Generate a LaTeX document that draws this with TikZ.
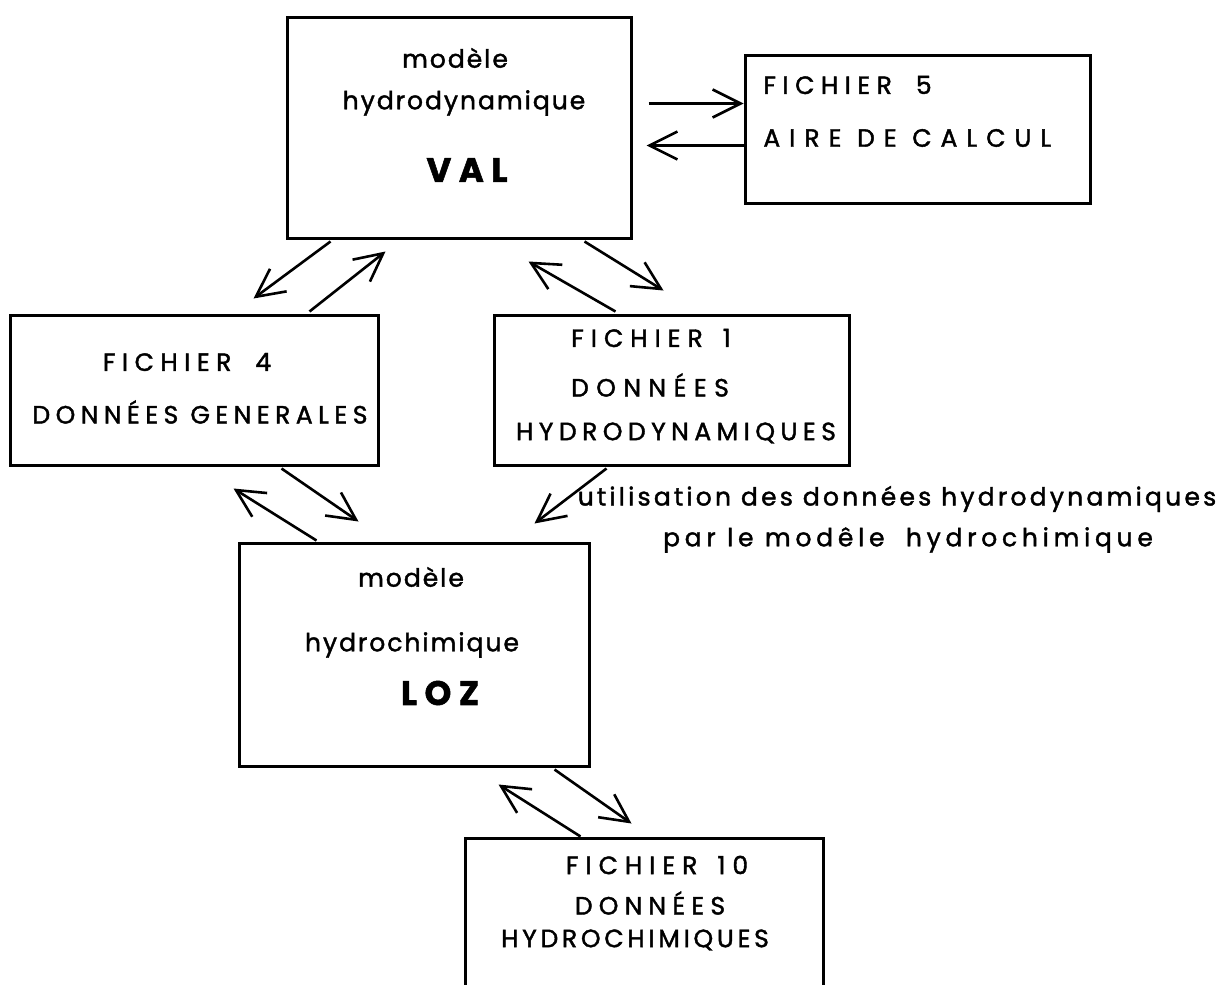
\documentclass[tikz,border=0pt]{standalone}
\usepackage{fontspec}
\newfontfamily\lettrage[LetterSpace=22,FakeBold=1.6]{Poppins}
\newfontfamily\minuscule[LetterSpace=8,FakeBold=1.6]{Poppins}
\newcommand{\ecart}[1]{\addfontfeature{LetterSpace=#1}}
\usetikzlibrary{arrows.meta,calc,fit}
\tikzset{boite/.style={draw=black, line width=1.5pt, inner sep=0pt, rectangle},
ecrit/.style={inner sep=0pt, font=\lettrage\fontsize{12.5}{14}\selectfont},
petit/.style={inner sep=0pt, font=\minuscule\fontsize{12.5}{14}\selectfont},
nom/.style={inner sep=0pt, font=\lettrage\bfseries\fontsize{17}{19}\selectfont},
fl/.style={line width=1.3pt, -{Straight Barb[length=14pt,width=14pt,line width=1.3pt]}}}

\begin{document}
\begin{tikzpicture}[x=0.5pt,y=-0.5pt]
    \useasboundingbox (0,0) rectangle (1221,985);
    \clip (0,0) rectangle (1221,985);

    \node (val) [boite, fit={(287,17) (631,238)}] {};
    \node (f5) [boite, fit={(745,55) (1090,203)}] {};
    \node (f4) [boite, fit={(10,315) (378,465)}] {};
    \node (f1) [boite, fit={(494,315) (849,465)}] {};
    \node (loz) [boite, fit={(239,543) (589,766)}] {};
    \node (f10) [boite, fit={(465,838) (823,1010)}] {};

    \node (val_a) [petit] at (455,58) {modèle};
    \node (val_b) [petit] at (464,103) {hydrodynamique};
    \node (val_c) [nom] at (467,170) {VAL};

    \node (f5_a) [ecrit, anchor=west] at (763,85) {\ecart{26}FICHIER\hspace{12pt}5};
    \node (f5_b) [ecrit, anchor=west] at (763,138) {\ecart{36}AIRE DE CALCUL};

    \node (f4_a) [ecrit] at (187,362) {\ecart{26}FICHIER\hspace{12pt}4};
    \node (f4_b) [ecrit] at (200,412) {DONNÉES GENERALES};

    \node (f1_a) [ecrit] at (651,338) {\ecart{28}FICHIER\hspace{10pt}1};
    \node (f1_b) [ecrit] at (650,385) {\ecart{30}DONNÉES};
    \node (f1_c) [ecrit] at (676,433) {HYDRODYNAMIQUES};

    \node (loz_a) [petit] at (411,577) {modèle};
    \node (loz_b) [petit] at (412,645) {hydrochimique};
    \node (loz_c) [nom] at (440,693) {LOZ};

    \node (f10_a) [ecrit] at (657,865) {\ecart{28}FICHIER\hspace{10pt}10};
    \node (f10_b) [ecrit] at (650,903) {\ecart{25}DONNÉES};
    \node (f10_c) [ecrit] at (635,940) {\ecart{15}HYDROCHIMIQUES};

    \node (util_a) [petit] at (897,499) {\ecart{13}utilisation des données hydrodynamiques};
    \node (util_b) [petit] at (908,540) {\ecart{19}par le modêle\hspace{5pt} hydrochimique};

    \draw [fl] ($(val.north east)+(16,88)$) -- ($(f5.north west)+(0,50)$);
    \draw [fl] ($(f5.north west)+(0,92)$) -- ($(val.north east)+(14,130)$);

    \draw [fl] ($(val.south west)+(45,2)$) -- ($(f4.north west)+(245,-15)$);
    \draw [fl] ($(f4.north east)+(-70,-2)$) -- ($(val.south west)+(100,12)$);

    \draw [fl] ($(val.south east)+(-48,2)$) -- ($(f1.north west)+(171,-23)$);
    \draw [fl] ($(f1.north west)+(123,-2)$) -- ($(val.south east)+(-104,22)$);

    \draw [fl] ($(f4.south east)+(-98,2)$) -- ($(loz.north west)+(121,-20)$);
    \draw [fl] ($(loz.north west)+(79,-1)$) -- ($(f4.south west)+(225,22)$);

    \draw [fl] ($(f1.south west)+(114,2)$) -- ($(loz.north east)+(-56,-18)$);

    \draw [fl] ($(loz.south east)+(-36,2)$) -- ($(f10.north west)+(168,-13)$);
    \draw [fl] ($(f10.north west)+(117,0)$) -- ($(loz.south west)+(261,17)$);
\end{tikzpicture}
\end{document}
